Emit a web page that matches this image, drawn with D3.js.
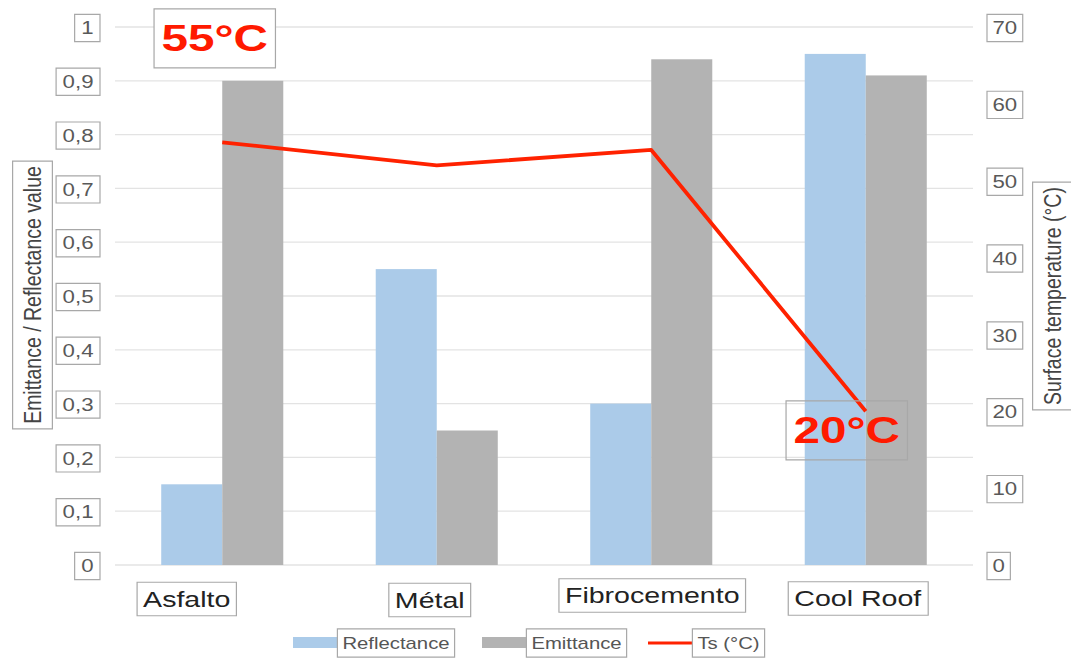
<!DOCTYPE html>
<html>
<head>
<meta charset="utf-8">
<script src="https://cdn.jsdelivr.net/npm/d3@7"></script>
<style>
  html, body { margin: 0; padding: 0; background: #fff; }
  svg { display: block; font-family: "Liberation Sans", Arial, sans-serif; }
</style>
</head>
<body>
<svg id="chart" width="1071" height="658"></svg>
<script>
// Roof materials and their measured properties
const categories = ["Asfalto", "Métal", "Fibrocemento", "Cool Roof"];
const reflectance = [0.15, 0.55, 0.30, 0.95];
const emittance = [0.90, 0.25, 0.94, 0.91];
const surfaceTemp = [55, 52, 54, 20];
const leftTicks = [0, 0.1, 0.2, 0.3, 0.4, 0.5, 0.6, 0.7, 0.8, 0.9, 1];
const rightTicks = [0, 10, 20, 30, 40, 50, 60, 70];
const seriesNames = ["Reflectance", "Emittance", "Ts (°C)"];
const calloutTexts = ["55°C", "20°C"];

const colors = { refl: "#abcbe9", emit: "#b3b3b3", line: "#ff2200", grid: "#e3e3e3", box: "#a8a8a8", tick: "#595959" };
const stretch = 1.27; // text is drawn horizontally widened

const svg = d3.select("#chart");
const plot = { left: 115, right: 973, top: 27, bottom: 565 };

const x = d3.scaleBand().domain(categories).range([plot.left, plot.right]).paddingInner(0.431).paddingOuter(0.2155);
const xSub = d3.scaleBand().domain(["refl", "emit"]).range([0, x.bandwidth()]);
const yL = d3.scaleLinear().domain([0, 1]).range([plot.bottom, plot.top]);
const yR = d3.scaleLinear().domain([0, 70]).range([plot.bottom, plot.top]);

// text with a thin grey frame around it
function boxedText(g, txt, px, py, opts) {
  const o = Object.assign({ size: 17, anchor: "middle", fill: colors.tick, weight: "normal", pad: [4, 4], rotate: 0 }, opts || {});
  const grp = g.append("g").attr("transform", `translate(${px},${py}) scale(${stretch},1) rotate(${o.rotate})`);
  const t = grp.append("text").text(txt)
    .attr("font-size", o.size).attr("font-weight", o.weight)
    .attr("fill", o.fill).attr("text-anchor", o.anchor)
    .attr("dominant-baseline", "central");
  const bb = t.node().getBBox();
  const padX = o.rotate ? o.pad[0] : o.pad[0] / stretch;
  const padY = o.rotate ? o.pad[1] / stretch : o.pad[1];
  grp.insert("rect", "text")
    .attr("x", bb.x - padX).attr("y", bb.y - padY)
    .attr("width", bb.width + 2 * padX).attr("height", bb.height + 2 * padY)
    .attr("fill", "#fff").attr("fill-opacity", o.fillOpacity == null ? 1 : o.fillOpacity)
    .attr("stroke", o.stroke || colors.box).attr("stroke-width", 1.2)
    .attr("vector-effect", "non-scaling-stroke");
  return grp;
}

// gridlines
svg.append("g").selectAll("line").data(leftTicks).join("line")
  .attr("x1", plot.left).attr("x2", plot.right)
  .attr("y1", d => yL(d)).attr("y2", d => yL(d))
  .attr("stroke", colors.grid).attr("stroke-width", 1.3);

// bars
const groups = svg.append("g").selectAll("g").data(categories).join("g")
  .attr("transform", d => `translate(${x(d)},0)`);
groups.append("rect")
  .attr("x", xSub("refl")).attr("width", xSub.bandwidth())
  .attr("y", (d, i) => yL(reflectance[i])).attr("height", (d, i) => yL(0) - yL(reflectance[i]))
  .attr("fill", colors.refl);
groups.append("rect")
  .attr("x", xSub("emit")).attr("width", xSub.bandwidth())
  .attr("y", (d, i) => yL(emittance[i])).attr("height", (d, i) => yL(0) - yL(emittance[i]))
  .attr("fill", colors.emit);

// surface temperature line
const cx = d => x(d) + x.bandwidth() / 2;
const line = d3.line().x(d => cx(d.c)).y(d => yR(d.v));
const pts = categories.map((c, i) => ({ c, v: surfaceTemp[i] }));
svg.append("path").datum(pts).attr("d", line)
  .attr("fill", "none").attr("stroke", colors.line).attr("stroke-width", 3.8)
  .attr("stroke-linejoin", "round");

// left axis labels
const fmt = d => d3.format(".1~f")(d).replace(".", ",");
const axL = svg.append("g");
leftTicks.forEach(t => boxedText(axL, fmt(t), 93.5, yL(t) + 1, { anchor: "end", size: 17.5, pad: [6.5, 4] }));

// right axis labels
const axR = svg.append("g");
rightTicks.forEach(t => boxedText(axR, String(t), 992.5, yR(t) + 1, { anchor: "start", size: 17.5, pad: [5.5, 4] }));

// axis titles
boxedText(svg, "Emittance / Reflectance value", 32.5, 295, { rotate: -90, size: 19.5, fill: "#444", pad: [5, 6] });
boxedText(svg, "Surface temperature (°C)", 1052.5, 296, { rotate: -90, size: 19.5, fill: "#444", pad: [5, 6] });

// category labels
const labelShift = { "Asfalto": -35.5, "Métal": -7, "Fibrocemento": 1, "Cool Roof": -8 };
const labelY = { "Asfalto": 599, "Métal": 600, "Fibrocemento": 595.5, "Cool Roof": 598.5 };
categories.forEach(c => boxedText(svg, c, cx(c) + labelShift[c], labelY[c], { size: 22.5, fill: "#222", pad: [6, 4.5] }));

// temperature callouts
boxedText(svg, calloutTexts[0], cx(categories[0]) - 7.5, yR(surfaceTemp[0]) - 104,
  { size: 37.5, weight: "bold", fill: "#ff1a00", pad: [7.5, 8.5] });
boxedText(svg, calloutTexts[1], cx(categories[3]) - 19, yR(surfaceTemp[3]) + 19,
  { size: 37.5, weight: "bold", fill: "#ff1a00", pad: [7.5, 8.5], fillOpacity: 0 });

// legend
const lg = svg.append("g");
const legY = 643;
lg.append("rect").attr("x", 293).attr("y", legY - 6).attr("width", 45).attr("height", 11).attr("fill", colors.refl);
boxedText(lg, seriesNames[0], 396, legY, { size: 16, fill: "#555", pad: [5, 5] });
lg.append("rect").attr("x", 482).attr("y", legY - 6).attr("width", 45).attr("height", 11).attr("fill", colors.emit);
boxedText(lg, seriesNames[1], 576.5, legY, { size: 16, fill: "#555", pad: [5, 5] });
lg.append("line").attr("x1", 648).attr("x2", 693).attr("y1", legY).attr("y2", legY)
  .attr("stroke", colors.line).attr("stroke-width", 3);
boxedText(lg, seriesNames[2], 728.5, legY, { size: 16, fill: "#555", pad: [5, 5] });
</script>
</body>
</html>
